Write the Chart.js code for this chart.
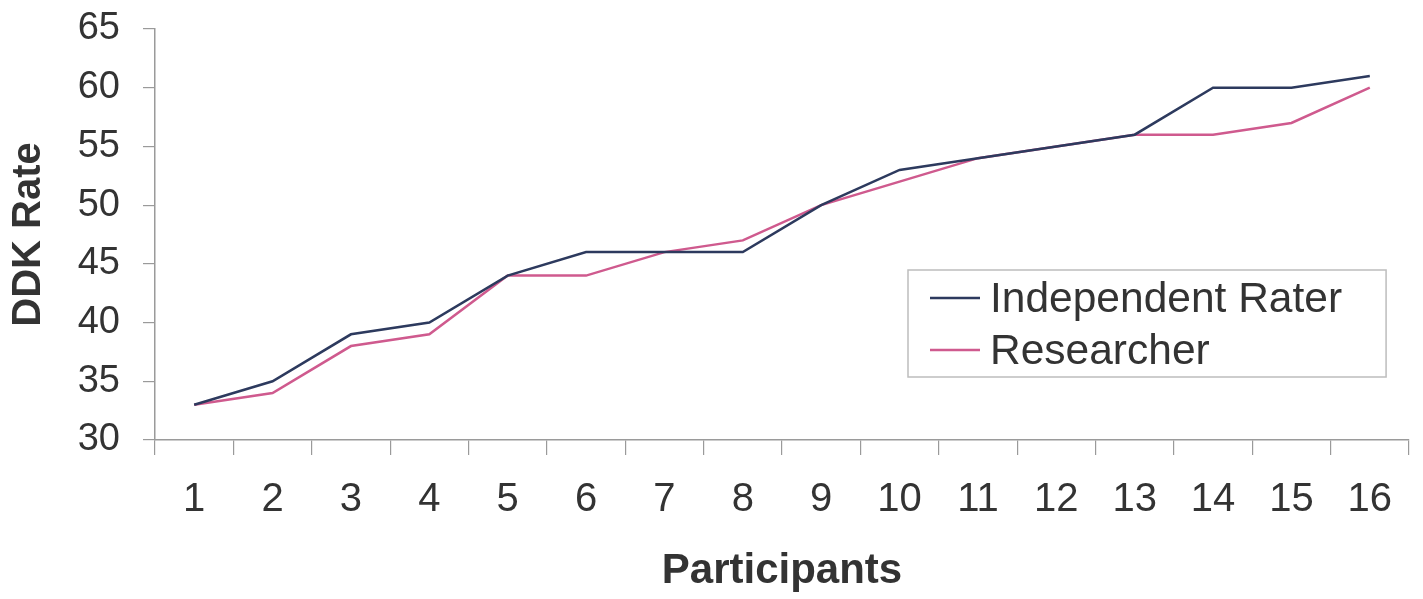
<!DOCTYPE html>
<html>
<head>
<meta charset="utf-8">
<script src="https://cdn.jsdelivr.net/npm/chart.js@4.4.1/dist/chart.umd.min.js"></script>
<style>
  html, body { margin: 0; padding: 0; background: #ffffff; }
  #wrap { width: 1423px; height: 599px; }
</style>
</head>
<body>
<div id="wrap"><canvas id="c" width="1423" height="599"></canvas></div>
<script>
// ---- data ----
const participants = ['1','2','3','4','5','6','7','8','9','10','11','12','13','14','15','16'];
const independentRater = [33, 35, 39, 40, 44, 46, 46, 46, 50, 53, 54, 55, 56, 60, 60, 61];
const researcher = [33, 34, 38, 39, 44, 44, 46, 47, 50, 52, 54, 55, 56, 56, 57, 60];
const seriesNames = ['Independent Rater', 'Researcher'];
const yMin = 30, yMax = 65, yStep = 5;
const xTitle = 'Participants';
const yTitle = 'DDK Rate';

const FONT = "'Liberation Sans', Arial, Helvetica, sans-serif";
const TEXT = '#333333';
const AXIS = '#9a9a9a';
const C_IND = '#2d3a5e';
const C_RES = '#cf5a8e';

// legend drawn inside plot area (right-middle), from dataset labels/colors
const boxLegend = {
  id: 'boxLegend',
  afterDraw(chart) {
    const ctx = chart.ctx;
    const area = chart.chartArea;
    const left = area.left + 753;
    const top = area.top + 241;
    const rowH = 52;
    ctx.save();
    ctx.font = '42.5px ' + FONT;
    let maxW = 0;
    chart.data.datasets.forEach(ds => { maxW = Math.max(maxW, ctx.measureText(ds.label).width); });
    const width = 82 + maxW + 44;
    const height = 107;
    ctx.strokeStyle = '#bdbdbd';
    ctx.lineWidth = 1.5;
    ctx.strokeRect(left, top, width, height);
    chart.data.datasets.forEach((ds, i) => {
      const cy = top + 28 + i * rowH;
      ctx.strokeStyle = ds.borderColor;
      ctx.lineWidth = 2.5;
      ctx.beginPath();
      ctx.moveTo(left + 22, cy);
      ctx.lineTo(left + 72, cy);
      ctx.stroke();
      ctx.fillStyle = TEXT;
      ctx.textBaseline = 'middle';
      ctx.textAlign = 'left';
      ctx.fillText(ds.label, left + 82, cy + 2);
    });
    ctx.restore();
  }
};

new Chart(document.getElementById('c'), {
  type: 'line',
  data: {
    labels: participants,
    datasets: [
      { label: seriesNames[0], data: independentRater, borderColor: C_IND, backgroundColor: C_IND,
        borderWidth: 2.5, pointRadius: 0, tension: 0, fill: false },
      { label: seriesNames[1], data: researcher, borderColor: C_RES, backgroundColor: C_RES,
        borderWidth: 2.5, pointRadius: 0, tension: 0, fill: false }
    ]
  },
  options: {
    responsive: false,
    animation: false,
    devicePixelRatio: 1,
    layout: { padding: { left: 0, right: 14, top: 29, bottom: 0 } },
    plugins: {
      legend: { display: false },
      tooltip: { enabled: false },
      title: { display: false }
    },
    scales: {
      x: {
        type: 'category',
        offset: true,
        grid: { offset: true, drawOnChartArea: false, drawTicks: true, tickLength: 15, tickColor: AXIS, lineWidth: 1.2 },
        border: { display: true, color: AXIS, width: 1.5 },
        ticks: { color: TEXT, font: { family: FONT, size: 40 }, padding: 21, maxRotation: 0, autoSkip: false },
        title: { display: true, text: xTitle, color: TEXT, font: { family: FONT, size: 42, weight: 'bold' }, padding: { top: 0, bottom: 2 } },
        afterFit(scale) { scale.height = 159; }
      },
      y: {
        min: yMin, max: yMax,
        grid: { drawOnChartArea: false, drawTicks: true, tickLength: 12, tickColor: AXIS, lineWidth: 1.2 },
        border: { display: true, color: AXIS, width: 1.5 },
        ticks: { stepSize: yStep, color: TEXT, font: { family: FONT, size: 38 }, padding: 23 },
        title: { display: true, text: yTitle, color: TEXT, font: { family: FONT, size: 40, weight: 'bold' }, padding: { top: 5, bottom: 0 } },
        afterFit(scale) { scale.width = 155; scale.paddingTop = 0; scale.paddingBottom = 0; }
      }
    }
  },
  plugins: [boxLegend]
});
</script>
</body>
</html>
